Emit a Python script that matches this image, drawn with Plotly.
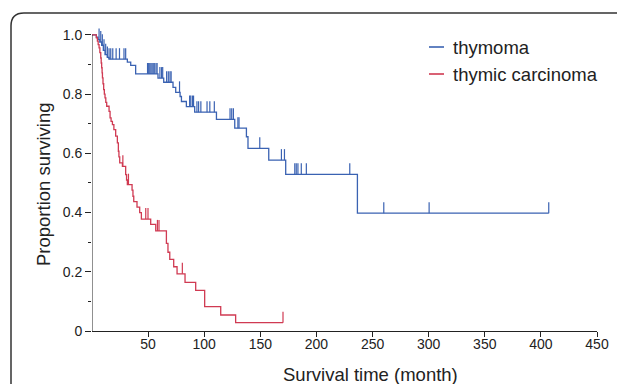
import numpy as np
import plotly.graph_objects as go

# ---------------- data ----------------
series_names = ["thymoma", "thymic carcinoma"]

thymoma_times = [0, 3.9, 5.4, 6.9, 8.6, 10.1, 11.6, 13.7, 15.2, 31.5, 34.5, 38.9,
                 58.8, 63.9, 72.2, 74.6, 78.5, 79.7, 84.1, 91.5, 110.9, 127.2,
                 137.6, 139.0, 157.5, 172.6, 236.5]
thymoma_surv = [1.0, 0.992, 0.984, 0.976, 0.965, 0.948, 0.933, 0.924, 0.918, 0.908, 0.897, 0.868,
                0.854, 0.84, 0.823, 0.806, 0.792, 0.775, 0.758, 0.739, 0.715, 0.685,
                0.656, 0.617, 0.577, 0.529, 0.398]
thymoma_censor = [6.3, 7.8, 9.2, 10.7, 12.2, 13.7, 15.2, 16.7, 18.5, 21.5, 24.5, 28.5, 30.0,
                  49.5, 50.5, 51.5, 52.5, 53.5, 54.5, 55.5, 57.0, 58.0,
                  60.5, 62.0, 63.0, 66.5, 68.0, 69.5, 70.5, 78.0,
                  87.0, 88.0, 89.5, 90.5, 93.5, 95.0, 97.0, 102.5, 105.0, 109.0,
                  123.0, 124.5, 126.0, 130.0, 131.0, 149.5, 168.8, 171.5,
                  180.7, 182.0, 183.5, 186.5, 191.0, 229.7, 260.0, 300.4, 407.0]
thymoma_end = 407.0

carcinoma_times = [0, 3.9, 4.8, 5.5, 6.3, 7.0, 7.8, 8.2, 8.6, 9.0, 9.3, 9.8, 10.4, 11.0,
                   11.6, 12.3, 13.1, 15.2, 16.1, 17.0, 18.2, 19.5, 21.1, 22.6, 23.5, 24.0,
                   24.7, 27.1, 30.0, 30.8, 31.5, 35.7, 36.5, 37.2, 40.1, 42.5, 44.0, 52.3,
                   56.8, 66.3, 67.7, 69.3, 72.8, 75.8, 82.9, 92.4, 100.4, 114.7, 128.0]
carcinoma_surv = [1.0, 0.99, 0.979, 0.967, 0.956, 0.94, 0.922, 0.905, 0.889, 0.872, 0.855, 0.835,
                  0.815, 0.80, 0.787, 0.772, 0.759, 0.742, 0.72, 0.708, 0.697, 0.68, 0.658,
                  0.635, 0.607, 0.588, 0.568, 0.556, 0.528, 0.51, 0.494, 0.476, 0.455, 0.437,
                  0.418, 0.40, 0.378, 0.36, 0.338, 0.296, 0.266, 0.242, 0.217, 0.193, 0.164,
                  0.137, 0.082, 0.054, 0.028]
carcinoma_censor = [27.5, 32.5, 47.9, 49.9, 58.3, 59.7, 80.5, 170.2]
carcinoma_end = 170.2

x_tick_vals = [50, 100, 150, 200, 250, 300, 350, 400, 450]
y_tick_vals = [0, 0.2, 0.4, 0.6, 0.8, 1.0]
y_tick_text = ["0", "0.2", "0.4", "0.6", "0.8", "1.0"]
y_minor_vals = [0.1, 0.3, 0.5, 0.7, 0.9]

x_title = "Survival time (month)"
y_title = "Proportion surviving"

# ---------------- styling ----------------
colors = ["#3a62b2", "#d03a52"]
FONT = "Liberation Sans, Arial, sans-serif"
OFF = 8                      # page body margin offset
W, H = 625 - OFF, 384 - OFF
L, R, T, B = 84, 28, 18, 53
PW, PH = W - L - R, H - T - B
Y_MAX = 1.03
CENSOR_H = 11 / (PH / Y_MAX)   # censor tick height in data units (~11 px)


def px_x(px):
    return (px - OFF - L) / PW


def px_y(py):
    return (H - B - (py - OFF)) / PH


def surv_at(times, surv, t):
    idx = np.searchsorted(np.asarray(times), t, side="right") - 1
    return surv[max(idx, 0)]


fig = go.Figure()

datasets = [
    (thymoma_times, thymoma_surv, thymoma_censor, thymoma_end),
    (carcinoma_times, carcinoma_surv, carcinoma_censor, carcinoma_end),
]

for name, color, (times, surv, cens, end) in zip(series_names, colors, datasets):
    xs = list(times) + [end]
    ys = list(surv) + [surv[-1]]
    fig.add_trace(go.Scatter(x=xs, y=ys, mode="lines", line=dict(color=color, width=1.3, shape="hv"),
                             name=name, showlegend=False, hoverinfo="skip"))
    cx, cy = [], []
    for t in cens:
        s = surv_at(times, surv, t)
        cx += [t, t, None]
        cy += [s, s + CENSOR_H, None]
    fig.add_trace(go.Scatter(x=cx, y=cy, mode="lines", line=dict(color=color, width=1.2),
                             showlegend=False, hoverinfo="skip"))

shapes = []
# y axis line from 0 to 1
shapes.append(dict(type="line", xref="x", yref="y", x0=0, x1=0, y0=0, y1=1.0,
                   line=dict(color="#222222", width=1)))
# rounded outer frame
frame_path = "M {a},{b} L {a},{c} Q {a},{d} {e},{d} L {f},{d}".format(
    a=px_x(11), b=px_y(400), c=px_y(26), d=px_y(13), e=px_x(24), f=px_x(640))
shapes.append(dict(type="path", xref="paper", yref="paper", path=frame_path,
                   line=dict(color="#333333", width=1.5)))

annotations = []
legend_rows = [47, 74]
for name, color, py in zip(series_names, colors, legend_rows):
    shapes.append(dict(type="line", xref="paper", yref="paper", x0=px_x(429), x1=px_x(444),
                       y0=px_y(py), y1=px_y(py), line=dict(color=color, width=1.6)))
    annotations.append(dict(x=px_x(451), y=px_y(py), xref="paper", yref="paper", text=name,
                            showarrow=False, xanchor="left", yanchor="middle",
                            font=dict(family=FONT, size=18.5, color="#222222")))

annotations.append(dict(x=px_x(370), y=px_y(374), xref="paper", yref="paper", text=x_title,
                        showarrow=False, xanchor="center", yanchor="middle",
                        font=dict(family=FONT, size=18.5, color="#222222")))
annotations.append(dict(x=px_x(43), y=px_y(184), xref="paper", yref="paper", text=y_title,
                        showarrow=False, xanchor="center", yanchor="middle", textangle=-90,
                        font=dict(family=FONT, size=18.5, color="#222222")))

fig.update_layout(
    width=W, height=H,
    margin=dict(l=L, r=R, t=T, b=B, pad=0),
    paper_bgcolor="white", plot_bgcolor="white",
    showlegend=False,
    shapes=shapes, annotations=annotations,
    font=dict(family=FONT, size=14, color="#222222"),
)
fig.update_xaxes(range=[0, 450], tickvals=x_tick_vals, ticks="outside", ticklen=5, tickwidth=1,
                 tickcolor="#222222", showline=True, linecolor="#222222", linewidth=1,
                 ticklabelstandoff=-5,
                 showgrid=False, zeroline=False, tickfont=dict(family=FONT, size=14, color="#222222"))
fig.update_yaxes(range=[0, Y_MAX], tickvals=y_tick_vals, ticktext=y_tick_text, ticks="outside",
                 ticklen=6, tickwidth=1, tickcolor="#222222", showline=False, showgrid=False,
                 zeroline=False, tickfont=dict(family=FONT, size=14, color="#222222"),
                 minor=dict(tickvals=y_minor_vals, ticks="outside", ticklen=3, tickwidth=1,
                            tickcolor="#222222", showgrid=False))

fig.write_html("out.html")
